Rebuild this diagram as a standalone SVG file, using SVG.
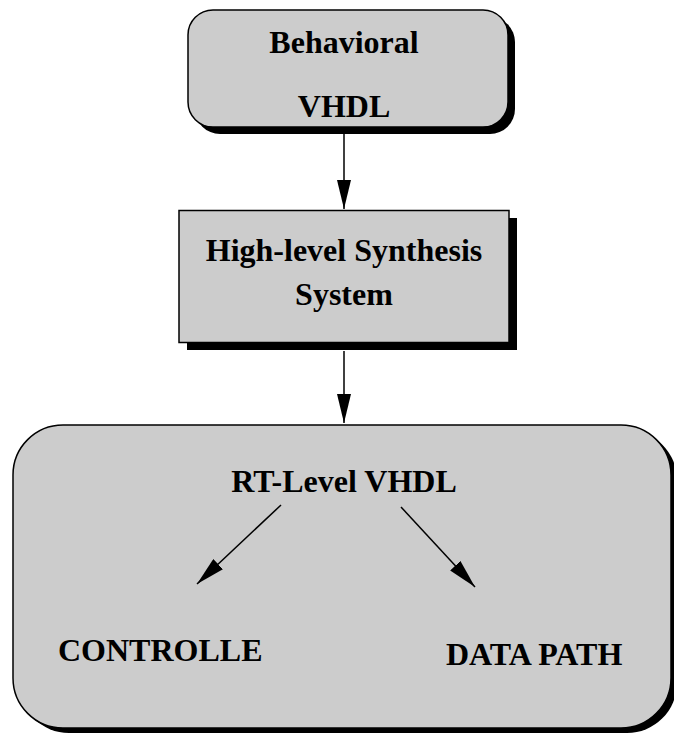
<svg xmlns="http://www.w3.org/2000/svg" width="674" height="735" viewBox="0 0 674 735">
  <style>
    .box { fill: #cccccc; stroke: #000000; stroke-width: 1.5; }
    .shadow { fill: #000000; stroke: none; }
    .label { font-family: "Liberation Serif", "Times New Roman", serif; font-weight: bold; font-size: 32px; fill: #000000; }
    .mid { text-anchor: middle; }
    .edge { stroke: #000000; stroke-width: 1.5; fill: none; marker-end: url(#arrow); }
  </style>
  <defs>
    <marker id="arrow" markerUnits="userSpaceOnUse" markerWidth="30" markerHeight="14" refX="29" refY="7" orient="auto">
      <path d="M0,0 L29,7 L0,14 Z" fill="#000000"/>
    </marker>
  </defs>
  <rect width="674" height="735" fill="#ffffff"/>

  <g id="behavioral-vhdl">
    <rect class="shadow" x="195" y="17" width="320" height="117" rx="25" ry="25"/>
    <rect class="box" x="188" y="10" width="320" height="117" rx="25" ry="25"/>
    <text class="label mid" x="344" y="53">Behavioral</text>
    <text class="label mid" x="344" y="117">VHDL</text>
  </g>

  <g id="hls-system">
    <rect class="shadow" x="187" y="218" width="330" height="132"/>
    <rect class="box" x="179" y="210.5" width="330" height="132"/>
    <text class="label mid" x="344" y="261">High-level Synthesis</text>
    <text class="label mid" x="344" y="305">System</text>
  </g>

  <g id="rt-level-vhdl">
    <rect class="shadow" x="19" y="430" width="658" height="303" rx="50" ry="50"/>
    <rect class="box" x="13" y="425" width="658" height="303" rx="50" ry="50"/>
    <text class="label mid" x="344" y="492">RT-Level VHDL</text>
    <text class="label" x="58" y="661">CONTROLLE</text>
    <text class="label" x="446" y="665">DATA PATH</text>
  </g>

  <g id="connectors">
    <line class="edge" x1="344" y1="128" x2="344" y2="209"/>
    <line class="edge" x1="344" y1="351" x2="344" y2="423"/>
    <line class="edge" x1="281" y1="505" x2="197" y2="584"/>
    <line class="edge" x1="401" y1="507" x2="475" y2="587"/>
  </g>
</svg>
